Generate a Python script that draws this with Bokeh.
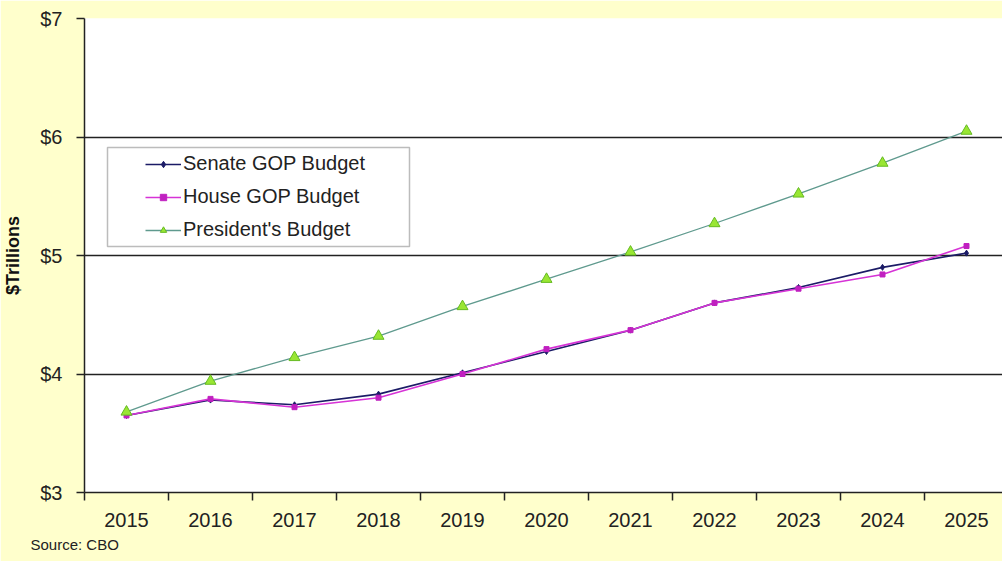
from bokeh.plotting import figure
from bokeh.models import (ColumnDataSource, FixedTicker, Range1d, Legend, LegendItem,
                          BoxAnnotation, Title, CustomJSTickFormatter)
from bokeh.embed import file_html
from bokeh.resources import INLINE

years = [2015, 2016, 2017, 2018, 2019, 2020, 2021, 2022, 2023, 2024, 2025]
senate = [3.65, 3.78, 3.74, 3.83, 4.01, 4.19, 4.37, 4.60, 4.73, 4.90, 5.02]
house = [3.65, 3.79, 3.72, 3.80, 4.00, 4.21, 4.37, 4.60, 4.72, 4.84, 5.08]
president = [3.68, 3.94, 4.14, 4.32, 4.57, 4.80, 5.03, 5.27, 5.52, 5.78, 6.05]
y_ticks = [3, 4, 5, 6, 7]
series_names = ["Senate GOP Budget", "House GOP Budget", "President's Budget"]

FONT = "Liberation Sans"
BG = "#FFFFCC"

src = ColumnDataSource(dict(year=years, senate=senate, house=house, president=president))

p = figure(width=1002, height=561, output_backend="svg", toolbar_location=None,
           x_range=Range1d(2014.5, 2014.5 + 918 / 84), y_range=Range1d(3, 7),
           min_border_left=84, min_border_right=0, min_border_top=18, min_border_bottom=69)
p.background_fill_color = "white"
p.border_fill_color = BG
p.outline_line_color = None

# axes
p.xaxis.ticker = FixedTicker(ticks=years, minor_ticks=[y + 0.5 for y in [2014] + years])
p.xaxis.major_tick_out = 0
p.xaxis.major_tick_in = 0
p.xaxis.minor_tick_out = 8
p.xaxis.minor_tick_in = 0
p.xaxis.minor_tick_line_color = "#222222"
p.xaxis.minor_tick_line_width = 1.5
p.xaxis.axis_line_color = "#222222"
p.xaxis.axis_line_width = 1.5
p.xaxis.major_label_text_font = FONT
p.xaxis.major_label_text_font_size = "20px"
p.xaxis.major_label_text_color = "#222222"
p.xaxis.major_label_standoff = 12

p.yaxis.ticker = FixedTicker(ticks=y_ticks)
p.yaxis.formatter = CustomJSTickFormatter(code="return '$' + tick.toFixed(0);")
p.yaxis.major_tick_out = 8
p.yaxis.major_tick_in = 0
p.yaxis.minor_tick_line_color = None
p.yaxis.major_tick_line_color = "#222222"
p.yaxis.major_tick_line_width = 1.5
p.yaxis.axis_line_color = "#222222"
p.yaxis.axis_line_width = 1.5
p.yaxis.major_label_text_font = FONT
p.yaxis.major_label_text_font_size = "20px"
p.yaxis.major_label_text_color = "#222222"
p.yaxis.major_label_standoff = 14
p.yaxis.axis_label = "$Trillions"
p.yaxis.axis_label_text_font = FONT
p.yaxis.axis_label_text_font_size = "18px"
p.yaxis.axis_label_text_font_style = "bold"
p.yaxis.axis_label_text_color = "#111111"
p.yaxis.axis_label_standoff = 14

p.xgrid.grid_line_color = None
p.ygrid.ticker = FixedTicker(ticks=y_ticks)
p.ygrid.grid_line_color = "#222222"
p.ygrid.grid_line_width = 1.5

# series
l1 = p.line("year", "senate", source=src, line_color="#1B1B66", line_width=1.6)
m1 = p.scatter("year", "senate", source=src, marker="diamond", size=6,
               fill_color="#1B1B66", line_color="#1B1B66")
l2 = p.line("year", "house", source=src, line_color="#D633D6", line_width=1.6)
m2 = p.scatter("year", "house", source=src, marker="square", size=5,
               fill_color="#C020C0", line_color="#C020C0")
l3 = p.line("year", "president", source=src, line_color="#5F9A8E", line_width=1.3)
m3 = p.scatter("year", "president", source=src, marker="triangle", size=11,
               fill_color="#99E633", line_color="#66BB22", line_width=1)

# legend box
box = BoxAnnotation(left=2014.5 + 23 / 84, right=2014.5 + 325 / 84,
                    top=7 - 129 / 118.5, bottom=7 - 228 / 118.5,
                    fill_color="white", fill_alpha=1, line_color="#222222", line_width=1.5,
                    level="overlay")
p.add_layout(box)

legend = Legend(items=[LegendItem(label=series_names[0], renderers=[l1, m1]),
                       LegendItem(label=series_names[1], renderers=[l2, m2]),
                       LegendItem(label=series_names[2], renderers=[l3, m3])],
                location=(61, 246), padding=0, margin=0, spacing=0,
                glyph_width=36, glyph_height=16, label_height=33, label_standoff=2,
                label_text_font=FONT, label_text_font_size="20px", label_text_color="#222222",
                border_line_color=None, background_fill_alpha=0)
p.add_layout(legend)

src_title = Title(text="Source: CBO", text_font=FONT, text_font_size="15px",
                  text_color="#222222", text_font_style="normal", align="left",
                  offset=-54, standoff=8)
p.add_layout(src_title, "below")

open("out.html", "w").write(file_html(p, INLINE))
